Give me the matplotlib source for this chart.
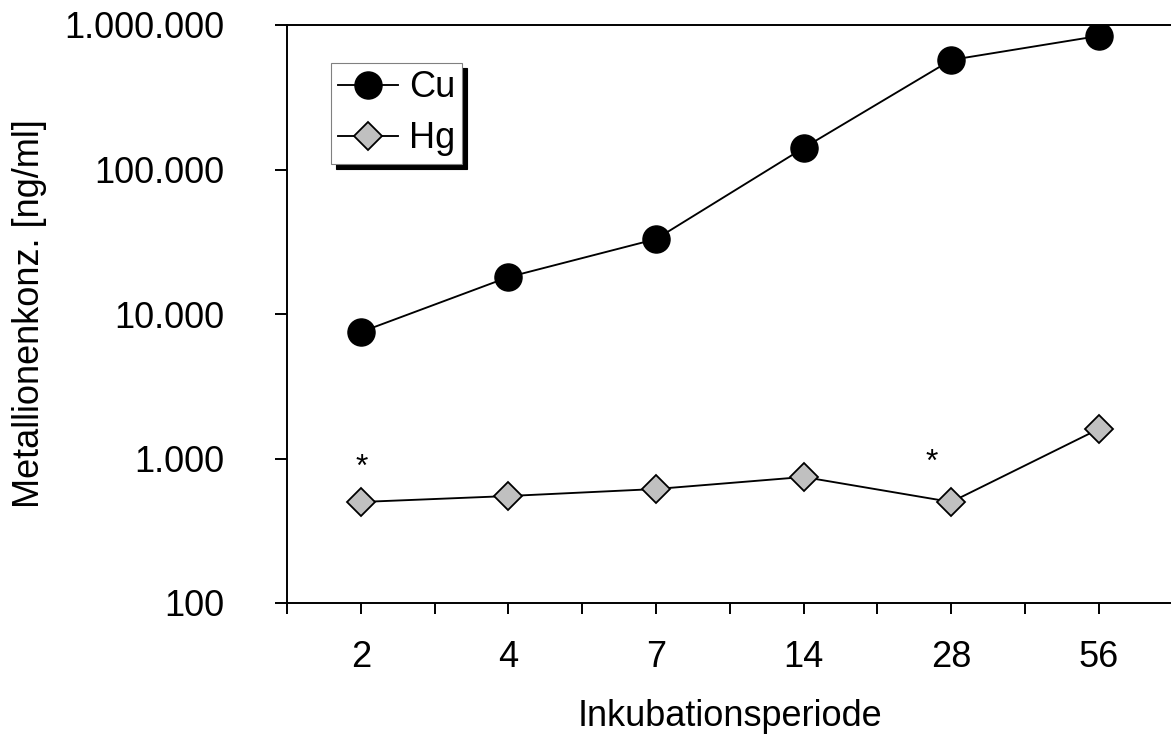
import matplotlib
matplotlib.use("Agg")
import matplotlib.pyplot as plt
from matplotlib.ticker import FixedLocator, FixedFormatter, NullLocator
import numpy as np

plt.rcParams['font.family'] = ['Liberation Sans', 'DejaVu Sans']

# Incubation periods (days) and measured metal ion concentrations [ng/ml]
periods = ["2", "4", "7", "14", "28", "56"]
cu_values = [7500, 18000, 33000, 141000, 573000, 840000]
hg_values = [500, 550, 615, 745, 500, 1600]

y_ticks = [100, 1000, 10000, 100000, 1000000]
y_tick_labels = ["100", "1.000", "10.000", "100.000", "1.000.000"]

# periods with a significance mark on the Hg series
marked = ["2", "28"]

FS = 26
W, H = 1171, 736
fig = plt.figure(figsize=(W / 100, H / 100), dpi=100)
ax = fig.add_axes([287 / W, (H - 603) / H, 885.6 / W, 578 / H])

x = np.arange(len(periods)) + 0.5

ax.plot(x, cu_values, color="black", lw=1.35, marker="o", ms=19.5,
        mfc="black", mec="black", mew=1.0, label="Cu", zorder=3)
ax.plot(x, hg_values, color="black", lw=1.35, marker="D", ms=14,
        mfc="#c0c0c0", mec="black", mew=1.3, label="Hg", zorder=3)

# significance asterisks above the marked Hg points
offsets = {"2": (1, 26), "28": (-19, 31)}
for p in marked:
    i = periods.index(p)
    ax.annotate("*", xy=(x[i], hg_values[i]), xytext=offsets[p],
                textcoords="offset pixels", ha="center", va="baseline",
                fontsize=23)

ax.set_yscale("log")
ax.set_ylim(100, 1e6)
ax.set_xlim(0, len(periods))

ax.yaxis.set_major_locator(FixedLocator(y_ticks))
ax.yaxis.set_major_formatter(FixedFormatter(y_tick_labels))
ax.yaxis.set_minor_locator(NullLocator())

# category labels at the centres, plain tick marks between them
ax.set_xticks(x)
ax.set_xticklabels(periods)
ax.set_xticks(np.arange(len(periods) + 1), minor=True)

ax.tick_params(axis="y", which="major", direction="out", length=8.6,
               width=1.4, labelsize=FS, pad=36.5)
ax.tick_params(axis="x", which="major", direction="out", length=7.6,
               width=1.4, labelsize=FS, pad=19)
ax.tick_params(axis="x", which="minor", direction="out", length=7.6,
               width=1.4)

for side in ["left", "bottom", "top"]:
    ax.spines[side].set_linewidth(1.4)
ax.spines["right"].set_visible(False)

ax.set_xlabel("Inkubationsperiode", fontsize=FS)
ax.xaxis.set_label_coords(0.5, (603 - 699) / 578)
ax.set_ylabel("Metallionenkonz. [ng/ml]", fontsize=FS)
ax.yaxis.set_label_coords((47 - 287) / 885.6, 0.5)

leg = ax.legend(loc="upper left", bbox_to_anchor=((331 - 287) / 885.6, (603 - 63) / 578),
                borderaxespad=0, fontsize=FS, frameon=True, fancybox=False,
                handlelength=1.65, handletextpad=0.3, borderpad=0.2,
                labelspacing=0.45,
                shadow={"ox": 3.6, "oy": -3.6, "color": "black", "alpha": 1})
leg.get_frame().set_edgecolor("#808080")
leg.get_frame().set_linewidth(0.8)
leg.get_frame().set_facecolor("white")

fig.savefig("out.png", dpi=100)
